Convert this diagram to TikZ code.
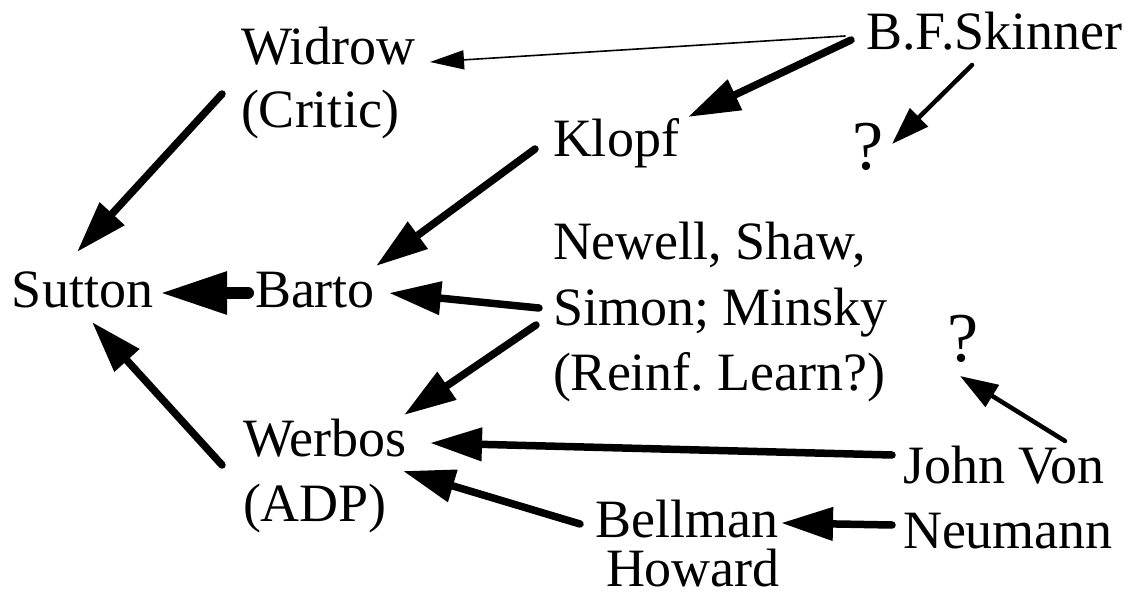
\documentclass[tikz,border=0pt]{standalone}
\usepackage{fontspec}
\setmainfont{Liberation Serif}
\usetikzlibrary{arrows.meta}
\tikzset{
  lbl/.style={inner sep=0pt, outer sep=0pt, anchor=base west, font=\fontsize{54}{63}\selectfont},
  qmark/.style={inner sep=0pt, outer sep=0pt, anchor=base, font=\fontsize{70}{80}\selectfont},
  thick arrow/.style={line width=7.5pt, line cap=round, -{Triangle[length=52pt,width=32pt]}},
  fat arrow/.style={line width=12pt, line cap=round, -{Triangle[length=67pt,width=40pt]}},
  mid arrow/.style={line width=4.5pt, line cap=round, -{Triangle[length=38pt,width=25pt]}},
  thin arrow/.style={line width=1.6pt, line cap=round, -{Triangle[length=34pt,width=19pt]}},
}
\begin{document}
\begin{tikzpicture}[x=1pt,y=-1pt]
\useasboundingbox (0,0) rectangle (1131,593);
% nodes
\node[lbl] (widrow) at (241,65) {Widrow};
\node[lbl] (critic) at (241,128) {(Critic)};
\node[lbl] (skinner) at (866,50) {B.F.Skinner};
\node[lbl] (klopf) at (553,157) {Klopf};
\node[qmark] (qa) at (868,170) {?};
\node[lbl] (sutton) at (12,307) {Sutton};
\node[lbl] (barto) at (255,307) {Barto};
\node[lbl] (newell) at (553,260) {Newell, Shaw,};
\node[lbl] (simon) at (553,325) {Simon; Minsky};
\node[lbl] (reinf) at (553,390) {(Reinf.\ Learn?)};
\node[qmark] (qb) at (963,361) {?};
\node[lbl] (werbos) at (243,456) {Werbos};
\node[lbl] (adp) at (243,521) {(ADP)};
\node[lbl] (johnvon) at (903,483) {John Von};
\node[lbl] (neumann) at (903,548) {Neumann};
\node[lbl] (bellman) at (595,537) {Bellman};
\node[lbl] (howard) at (606,586) {Howard};
% connectors
\draw[thin arrow] ([shift={(-21,-14)}]skinner.base west) -- ([shift={(189,-3)}]widrow.base west);
\draw[thick arrow] ([shift={(-15,-10)}]skinner.base west) -- ([shift={(135,-40)}]klopf.base west);
\draw[mid arrow] ([shift={(106,15)}]skinner.base west) -- ([shift={(24,-26)}]qa.base);
\draw[thick arrow] ([shift={(-19,29)}]widrow.base west) -- ([shift={(65,-55)}]sutton.base west);
\draw[thick arrow] ([shift={(-18,-8)}]klopf.base west) -- ([shift={(121,-41)}]barto.base west);
\draw[fat arrow] ([shift={(-7,-14)}]barto.base west) -- ([shift={(148,-14)}]sutton.base west);
\draw[thick arrow] ([shift={(-14,-17)}]simon.base west) -- ([shift={(134,-14)}]barto.base west);
\draw[thick arrow] ([shift={(-17,0)}]simon.base west) -- ([shift={(161,-41)}]werbos.base west);
\draw[thick arrow] ([shift={(-21,9)}]werbos.base west) -- ([shift={(80,15)}]sutton.base west);
\draw[thick arrow] ([shift={(-11,-28)}]johnvon.base west) -- ([shift={(187,-13)}]werbos.base west);
\draw[thick arrow] ([shift={(-15,-13)}]bellman.base west) -- ([shift={(160,15)}]werbos.base west);
\draw[thick arrow] ([shift={(-11,-23)}]neumann.base west) -- ([shift={(186,-14)}]bellman.base west);
\draw[mid arrow] ([shift={(162,-42)}]johnvon.base west) -- ([shift={(-3,15)}]qb.base);
\end{tikzpicture}
\end{document}
